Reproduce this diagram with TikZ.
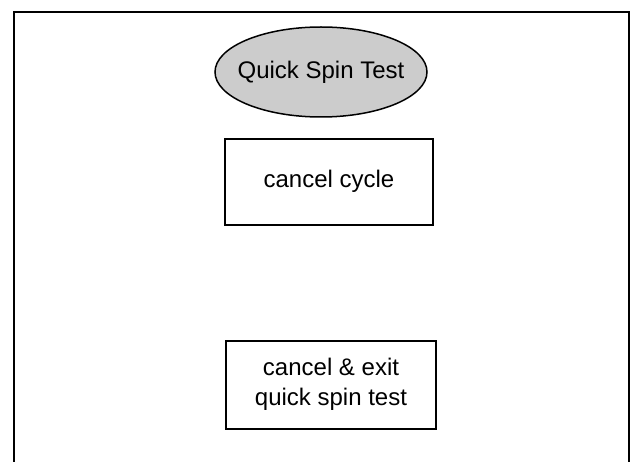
\documentclass[tikz,border=0pt]{standalone}
\usepackage{fontspec}
\setmainfont{Liberation Sans}
\usetikzlibrary{shapes,positioning}
\definecolor{spingray}{RGB}{204,204,204}

\begin{document}
\begin{tikzpicture}[
    x=1pt, y=-1pt,
    node distance=20pt,
    title/.style={ellipse, draw, fill=spingray, line width=1.5pt, minimum width=212pt, minimum height=90pt, inner sep=0pt, font=\fontsize{24}{28}\selectfont},
    action/.style={rectangle, draw, line width=2pt, minimum width=208pt, minimum height=86pt, align=center, font=\fontsize{24}{30}\selectfont}
]
\useasboundingbox (0,0) rectangle (631,462);

% Frame (open at the bottom)
\draw[line width=2pt] (14,462) -- (14,12) -- (629,12) -- (629,462);

% Start
\node[title] (spin) at (321,72) {\makebox[0pt]{Quick Spin Test}};

% Actions
\node[action, below=20pt of spin, xshift=8pt] (cycle) {cancel cycle};
\node[action, below=114pt of cycle, xshift=2pt, minimum width=210pt, minimum height=88pt] (exit) {cancel \& exit\\quick spin test};

\end{tikzpicture}
\end{document}
